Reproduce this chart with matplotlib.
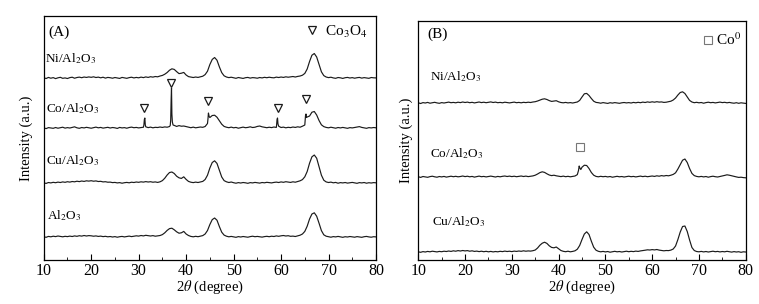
import matplotlib
matplotlib.use('Agg')
import matplotlib.pyplot as plt
import numpy as np
from matplotlib import rcParams
from matplotlib.ticker import MultipleLocator

rcParams['font.family'] = 'serif'
rcParams['font.serif'] = ['Liberation Serif', 'DejaVu Serif']
rcParams['mathtext.fontset'] = 'stix'
rcParams['font.size'] = 10

# 2theta sampling grid (0.5 deg), intensities (a.u., above each baseline)
tth = np.linspace(10, 80, 141)

### Panel A: calcined samples ###
ni_A = [0.3,-0.5,0.6,-0.2,0.4,-0.6,0.2,0.7,-0.3,0.1,
        -0.5,0.4,0.8,-0.2,0.5,0.9,0.3,1.0,0.6,1.1,
        0.7,1.2,0.5,0.9,0.2,0.8,-0.1,0.6,0.3,-0.2,
        0.5,0.1,-0.4,0.6,0.2,-0.3,0.4,0.8,0.1,0.6,
        0.2,0.9,0.4,1.1,0.6,1.3,0.9,1.5,1.2,2.0,
        2.6,3.8,5.5,7.8,9.2,8.6,6.4,4.4,4.8,5.6,
        3.0,1.4,0.9,0.5,1.0,0.6,1.2,1.8,3.4,6.8,
        13.5,18.6,20.5,17.8,11.2,5.4,2.2,1.0,0.4,0.8,
        0.2,-0.3,0.5,0.1,-0.4,0.3,0.6,-0.1,0.4,0.2,
        -0.2,0.5,0.1,0.7,0.3,0.8,0.4,0.2,0.9,0.5,
        1.0,0.6,1.2,0.8,1.1,1.5,1.0,1.6,2.0,2.8,
        4.6,9.0,16.5,22.8,24.5,21.0,13.5,6.2,2.4,1.0,
        0.4,0.8,0.1,-0.3,0.5,0.2,-0.4,0.3,0.6,0.0,
        0.4,-0.2,0.3,0.6,-0.1,0.4,0.1,-0.3,0.5,0.2,
        0.1]
co_A = [0.2,-0.6,0.4,0.1,-0.3,0.5,-0.2,0.3,0.8,-0.1,
        0.4,0.0,0.6,1.2,0.2,-0.3,0.5,0.1,0.7,0.3,
        -0.2,0.4,0.9,0.2,0.6,-0.1,0.3,0.7,0.0,0.5,
        0.2,-0.4,0.6,0.1,0.4,-0.2,0.5,0.9,0.3,0.6,
        0.1,0.5,0.8,1.2,0.4,0.9,0.2,0.7,0.5,1.0,
        0.6,1.1,0.8,1.5,14.0,2.6,1.6,2.4,1.8,2.0,
        1.4,0.8,0.3,0.9,0.2,0.6,1.0,0.7,1.5,4.5,
        10.5,12.5,12.8,10.8,7.2,3.8,1.6,0.8,0.3,0.9,
        0.2,0.6,-0.2,0.4,0.9,0.3,0.6,1.2,0.5,0.8,
        1.6,2.0,1.2,0.7,0.3,0.8,0.4,1.0,0.6,1.8,
        0.5,0.9,0.2,0.7,0.4,1.0,0.6,1.2,0.8,1.8,
        3.0,11.0,12.0,15.8,16.5,13.0,7.5,3.2,1.4,0.6,
        0.2,0.8,0.3,-0.2,0.5,0.1,0.6,0.2,-0.3,0.4,
        0.1,0.5,0.9,1.4,0.6,0.2,-0.3,0.4,0.1,0.5,
        0.2]
# narrow Co3O4 reflections, sampled finer
co_A_sharp_x = [31.1, 31.2, 31.3, 31.4, 36.65, 36.75, 36.85, 36.92, 37.1, 37.25,
                44.6, 44.7, 44.85, 59.05, 59.15, 59.25, 59.35, 65.05, 65.15, 65.25, 65.35]
co_A_sharp_y = [3.0, 8.5, 10.0, 3.0, 2.5, 8.0, 30.0, 40.0, 6.0, 3.0,
                9.0, 15.0, 11.5, 2.5, 8.5, 10.0, 4.0, 6.0, 12.5, 14.0, 10.5]
cu_A = [0.2,-0.4,0.5,0.1,0.7,0.3,0.9,0.5,1.1,0.7,
        1.3,0.9,1.5,1.2,1.8,1.4,2.0,1.6,2.2,1.9,
        2.3,1.8,2.1,1.5,1.7,1.1,1.3,0.8,0.9,0.4,
        0.6,0.1,0.4,-0.2,0.3,0.6,0.2,0.8,0.5,1.0,
        0.7,1.2,0.9,1.4,1.0,1.3,0.8,1.1,0.6,1.2,
        2.4,4.8,8.0,10.5,11.0,9.5,6.8,5.2,4.6,6.2,
        3.6,1.6,0.8,0.4,0.9,0.5,1.1,1.6,3.5,7.8,
        15.0,20.5,22.2,19.6,12.8,6.0,2.4,1.2,0.5,1.0,
        0.3,-0.2,0.4,0.0,0.5,0.2,-0.3,0.4,0.1,0.6,
        0.3,-0.1,0.5,0.2,0.7,0.4,0.1,0.6,0.9,0.5,
        1.1,0.7,1.3,0.9,0.6,1.2,0.8,1.5,2.2,3.4,
        6.2,11.5,19.8,26.2,28.0,24.8,16.5,7.8,2.8,1.1,
        0.5,0.9,0.2,0.6,-0.2,0.4,0.1,0.5,-0.1,0.3,
        0.6,0.2,-0.3,0.4,0.1,0.5,-0.2,0.3,0.0,0.4,
        0.2]
al_A = [0.3,-0.3,0.6,0.2,0.8,0.4,1.0,0.6,0.2,0.7,
        0.4,0.9,0.5,1.1,0.7,1.3,0.9,1.5,1.0,1.4,
        1.2,0.8,1.1,0.6,0.9,0.4,0.7,0.2,0.5,0.0,
        0.4,-0.2,0.3,0.6,0.1,0.5,0.9,0.4,0.8,1.2,
        0.9,1.5,1.1,1.7,1.3,1.0,1.4,0.8,1.1,1.5,
        2.4,4.2,6.6,8.4,8.8,7.2,5.2,3.8,4.2,5.6,
        3.0,1.5,0.6,0.2,0.7,0.3,0.9,1.4,3.0,6.5,
        12.5,17.4,19.0,16.8,10.5,4.8,1.9,0.8,0.2,0.6,
        0.1,-0.3,0.4,0.0,0.5,0.2,-0.2,0.4,0.8,0.3,
        0.6,0.2,-0.1,0.4,0.7,0.3,0.8,0.5,1.1,0.7,
        1.2,1.5,1.0,1.3,0.7,0.9,0.5,1.1,1.8,3.0,
        5.6,10.8,18.0,23.0,24.2,20.8,13.8,6.4,2.2,0.8,
        0.3,-0.2,0.4,0.1,0.6,0.2,-0.3,0.3,0.0,0.5,
        0.2,-0.2,0.4,0.1,-0.3,0.3,0.6,0.1,-0.2,0.3,
        0.1]
co3o4_peaks = [31.2, 36.9, 44.7, 59.25, 65.2]
co3o4_mark = [152, 177, 159, 152, 161]

### Panel B: reduced samples ###
ni_B = [0.2,-0.5,0.4,0.0,0.6,-0.2,0.3,0.7,0.1,-0.3,
        0.4,0.0,0.5,0.9,0.3,0.6,0.2,0.8,0.4,1.0,
        0.5,0.9,0.3,0.7,0.1,0.5,1.0,0.4,0.8,0.3,
        0.7,1.1,0.5,0.9,0.3,0.6,0.2,0.8,0.4,0.1,
        0.5,0.9,0.3,0.6,0.2,0.7,0.4,0.8,0.5,1.0,
        1.3,2.0,2.9,3.8,4.2,3.5,2.4,1.6,1.9,2.3,
        1.2,0.5,0.2,0.6,0.1,0.4,0.0,0.5,1.0,2.6,
        6.0,9.2,9.6,7.5,4.5,1.8,0.6,0.3,-0.2,0.4,
        0.0,-0.4,0.3,-0.1,0.4,0.0,-0.3,0.2,0.5,0.1,
        0.4,0.0,0.6,0.2,0.7,0.3,0.9,0.5,1.1,0.7,
        1.2,0.8,1.3,0.9,1.1,0.6,0.8,1.3,1.8,3.0,
        5.0,8.0,10.5,11.2,9.5,6.0,2.6,1.0,0.3,0.7,
        0.2,0.5,-0.2,0.4,0.8,0.3,0.6,0.1,0.5,0.9,
        0.4,0.7,0.2,0.6,0.1,-0.2,0.3,-0.3,0.2,-0.1,
        -0.4]
co_B = [0.3,-0.4,0.5,0.1,-0.3,0.4,0.8,0.2,-0.2,0.5,
        0.1,0.6,-0.1,0.4,0.8,0.3,0.7,0.2,0.5,1.0,
        0.4,0.8,0.2,0.6,-0.1,0.4,0.9,0.3,0.6,0.1,
        0.5,0.9,0.4,0.0,0.6,0.2,0.7,1.0,0.5,0.9,
        0.4,0.8,0.3,0.6,1.0,0.5,0.9,0.4,0.7,1.1,
        1.8,3.0,4.4,5.2,4.6,3.2,2.0,1.4,1.8,1.2,
        0.8,0.4,0.9,0.3,0.7,0.2,0.6,1.0,2.4,9.5,
        9.8,11.8,11.5,8.5,4.5,1.8,0.6,0.2,0.7,0.3,
        0.6,0.1,0.5,-0.2,0.3,0.7,0.2,0.5,0.0,0.4,
        0.8,0.3,0.6,0.1,0.5,0.9,0.4,0.8,0.3,0.7,
        1.0,0.6,1.2,0.8,1.4,1.0,1.5,1.2,1.8,2.6,
        4.2,8.0,12.5,16.8,18.0,14.5,8.5,3.6,1.4,0.6,
        0.2,0.6,0.1,0.5,-0.2,0.4,0.8,0.3,0.0,0.5,
        1.0,1.6,2.2,1.8,1.2,0.6,0.1,-0.4,-0.2,-0.6,
        -0.8]
co_B_sharp_x = [44.25, 44.4, 44.75]
co_B_sharp_y = [6.5, 11.0, 7.5]
cu_B = [0.2,-0.3,0.4,0.0,0.6,0.2,0.8,0.4,0.1,0.6,
        0.3,0.8,0.5,1.0,0.6,1.2,0.8,1.4,1.0,1.5,
        1.1,1.4,0.8,1.2,0.6,0.9,0.4,0.8,0.3,0.7,
        0.2,0.6,0.1,0.5,0.2,0.7,0.4,0.9,0.5,0.8,
        0.4,0.9,0.6,1.0,0.7,1.2,0.8,1.1,0.9,1.3,
        2.0,4.0,6.8,8.8,9.8,8.6,6.2,4.6,4.2,5.0,
        3.2,1.5,0.7,0.3,0.8,0.2,0.6,1.2,2.8,6.5,
        12.5,18.0,20.2,17.5,10.8,4.8,1.8,0.7,0.2,0.6,
        0.1,0.5,-0.2,0.3,0.7,0.2,0.5,0.0,0.4,0.8,
        0.3,0.7,0.4,0.9,0.6,1.1,1.4,1.8,2.2,2.0,
        2.4,2.1,2.5,1.9,1.6,1.2,1.5,1.4,1.9,3.0,
        6.0,12.5,20.0,25.5,26.0,20.5,12.0,4.5,1.5,0.5,
        0.2,0.6,0.1,0.5,0.0,0.4,0.8,0.3,0.6,0.1,
        0.5,0.2,0.7,0.3,-0.1,0.4,0.0,0.3,-0.3,0.2,
        0.0]
co0_peak = 44.6
co0_mark = 113

# stacking offsets (a.u.)
off_A = {'ni': 182, 'co': 132, 'cu': 77, 'al': 23}
off_B = {'ni': 157, 'co': 83, 'cu': 8}


def merge(y, xs=None, ys=None):
    x = np.array(tth)
    y = np.array(y, dtype=float)
    if xs is not None:
        x = np.concatenate([x, xs])
        y = np.concatenate([y, ys])
        o = np.argsort(x)
        x, y = x[o], y[o]
    return x, y


def style(ax, ymax):
    ax.set_xlim(10, 80)
    ax.set_ylim(0, ymax)
    ax.xaxis.set_major_locator(MultipleLocator(10))
    ax.xaxis.set_minor_locator(MultipleLocator(5))
    ax.tick_params(axis='x', which='both', direction='in', top=False, labelsize=11.5, pad=2)
    ax.tick_params(axis='x', which='major', length=4)
    ax.tick_params(axis='x', which='minor', length=2.5)
    ax.set_yticks([])
    ax.set_xlabel(r'2$\theta$ (degree)', fontsize=10.5, labelpad=0)
    ax.set_ylabel('Intensity (a.u.)', fontsize=10.5)
    for s in ax.spines.values():
        s.set_linewidth(0.9)


fig = plt.figure(figsize=(7.59, 3.04), dpi=100)
axA = fig.add_axes([0.0576, 0.1447, 0.4378, 0.8026])
axB = fig.add_axes([0.5511, 0.1447, 0.4314, 0.7862])
lc = '#1a1a1a'

### (A) ###
for y, key, extra in [(ni_A, 'ni', None), (co_A, 'co', (co_A_sharp_x, co_A_sharp_y)),
                      (cu_A, 'cu', None), (al_A, 'al', None)]:
    if extra:
        x, yy = merge(y, *extra)
    else:
        x, yy = merge(y)
    axA.plot(x, yy + off_A[key], color=lc, lw=0.85)
axA.plot(co3o4_peaks, co3o4_mark, 'v', ms=6, mfc='none', mec=lc, mew=0.9)
axA.plot([66.5], [230], 'v', ms=6, mfc='none', mec=lc, mew=0.9)
axA.text(69.2, 224, r'Co$_3$O$_4$', fontsize=11)
axA.text(10.9, 228, '(A)', fontsize=11, va='center')
axA.text(10.3, 198, r'Ni/Al$_2$O$_3$', fontsize=9.5)
axA.text(10.5, 148, r'Co/Al$_2$O$_3$', fontsize=9.5)
axA.text(10.5, 96, r'Cu/Al$_2$O$_3$', fontsize=9.5)
axA.text(10.7, 41, r'Al$_2$O$_3$', fontsize=9.5)
style(axA, 244)
axA.yaxis.set_label_coords(-0.032, 0.5)

### (B) ###
for y, key, extra in [(ni_B, 'ni', None), (co_B, 'co', (co_B_sharp_x, co_B_sharp_y)),
                      (cu_B, 'cu', None)]:
    if extra:
        x, yy = merge(y, *extra)
    else:
        x, yy = merge(y)
    axB.plot(x, yy + off_B[key], color=lc, lw=0.85)
axB.plot([co0_peak], [co0_mark], 's', ms=6, mfc='none', mec='#777777', mew=0.8)
axB.plot([71.9], [220], 's', ms=6, mfc='none', mec='#777777', mew=0.8)
axB.text(73.6, 215, r'Co$^0$', fontsize=11)
axB.text(11.9, 226, '(B)', fontsize=11, va='center')
axB.text(12.5, 180, r'Ni/Al$_2$O$_3$', fontsize=9.5)
axB.text(12.5, 103, r'Co/Al$_2$O$_3$', fontsize=9.5)
axB.text(12.9, 35, r'Cu/Al$_2$O$_3$', fontsize=9.5)
style(axB, 239)
axB.yaxis.set_label_coords(-0.016, 0.5)

plt.savefig('out.png', dpi=100)
